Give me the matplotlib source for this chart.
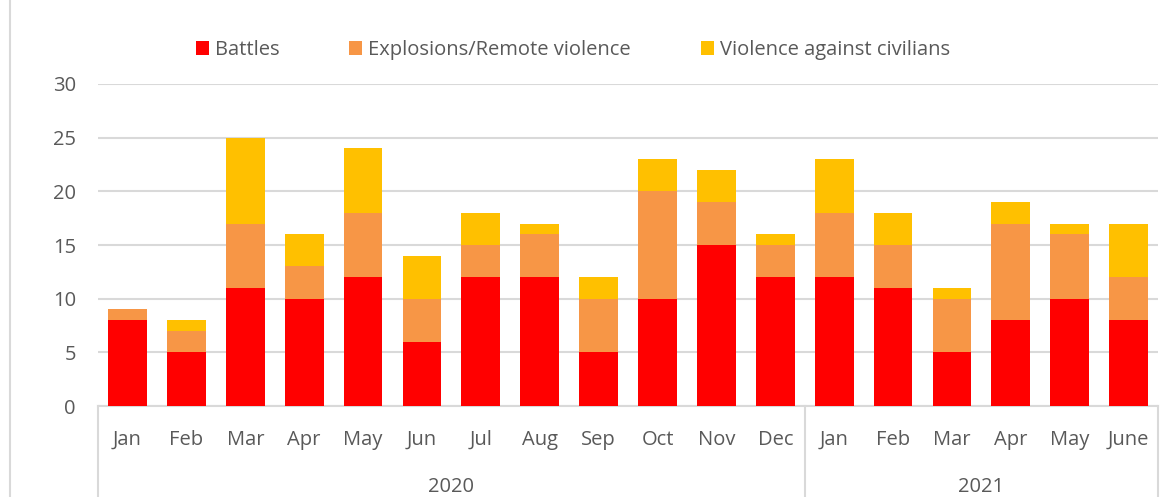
import matplotlib.pyplot as plt
import matplotlib.transforms as mtransforms
from matplotlib.patches import Rectangle
import numpy as np

months = ['Jan', 'Feb', 'Mar', 'Apr', 'May', 'Jun', 'Jul', 'Aug', 'Sep', 'Oct', 'Nov', 'Dec',
          'Jan', 'Feb', 'Mar', 'Apr', 'May', 'June']
years = ['2020', '2021']
year_counts = [12, 6]

battles = [8, 5, 11, 10, 12, 6, 12, 12, 5, 10, 15, 12, 12, 11, 5, 8, 10, 8]
explosions = [1, 2, 6, 3, 6, 4, 3, 4, 5, 10, 4, 3, 6, 4, 5, 9, 6, 4]
violence = [0, 1, 8, 3, 6, 4, 3, 1, 2, 3, 3, 1, 5, 3, 1, 2, 1, 5]

plt.rcParams['font.family'] = ['Open Sans', 'DejaVu Sans']
text_color = '#595959'
grid_color = '#D9D9D9'
fs = 14.5

fig = plt.figure(figsize=(11.7, 4.97), dpi=100)
ax = fig.add_axes([0.0838, 0.183, 0.906, 0.648])

# chart border
fig.patches.append(Rectangle((10 / 1170, -0.01), 1.2, 1.2, transform=fig.transFigure,
                             fill=False, edgecolor=grid_color, linewidth=1.5))

x = np.arange(len(months))
b = np.array(battles)
e = np.array(explosions)
v = np.array(violence)
w = 0.66
ax.bar(x, b, w, color='#FF0000', label='Battles', zorder=3)
ax.bar(x, e, w, bottom=b, color='#F79646', label='Explosions/Remote violence', zorder=3)
ax.bar(x, v, w, bottom=b + e, color='#FFC000', label='Violence against civilians', zorder=3)

ax.set_xlim(-0.5, len(months) - 0.5)
ax.set_ylim(0, 30)
ax.set_yticks(range(0, 31, 5))
ax.yaxis.grid(True, color=grid_color, linewidth=1.5, zorder=0)
ax.set_axisbelow(True)
for s in ['top', 'right', 'left']:
    ax.spines[s].set_visible(False)
ax.spines['bottom'].set_color(grid_color)
ax.spines['bottom'].set_linewidth(1.5)
ax.tick_params(axis='y', length=0, labelsize=fs, labelcolor=text_color, pad=16)
ax.tick_params(axis='x', length=0, labelsize=fs, labelcolor=text_color, pad=17)
ax.set_xticks(x)
ax.set_xticklabels(months)

# year group labels and separators
trans = mtransforms.blended_transform_factory(ax.transData, ax.transAxes)
edges = [-0.5]
for c in year_counts:
    edges.append(edges[-1] + c)
for xe in edges:
    ax.plot([xe, xe], [0, -0.32], transform=trans, color=grid_color, linewidth=1.5, clip_on=False)
for i, yr in enumerate(years):
    mid = (edges[i] + edges[i + 1]) / 2
    ax.text(mid, -0.252, yr, transform=trans, ha='center', va='center',
            fontsize=fs, color=text_color)

leg = ax.legend(loc='center', bbox_to_anchor=(0.448, 1.105), ncol=3, frameon=False,
                fontsize=fs, handlelength=0.65, handleheight=0.65, columnspacing=3.45,
                handletextpad=0.3)
for t in leg.get_texts():
    t.set_color(text_color)

fig.savefig('out.png', dpi=100)
